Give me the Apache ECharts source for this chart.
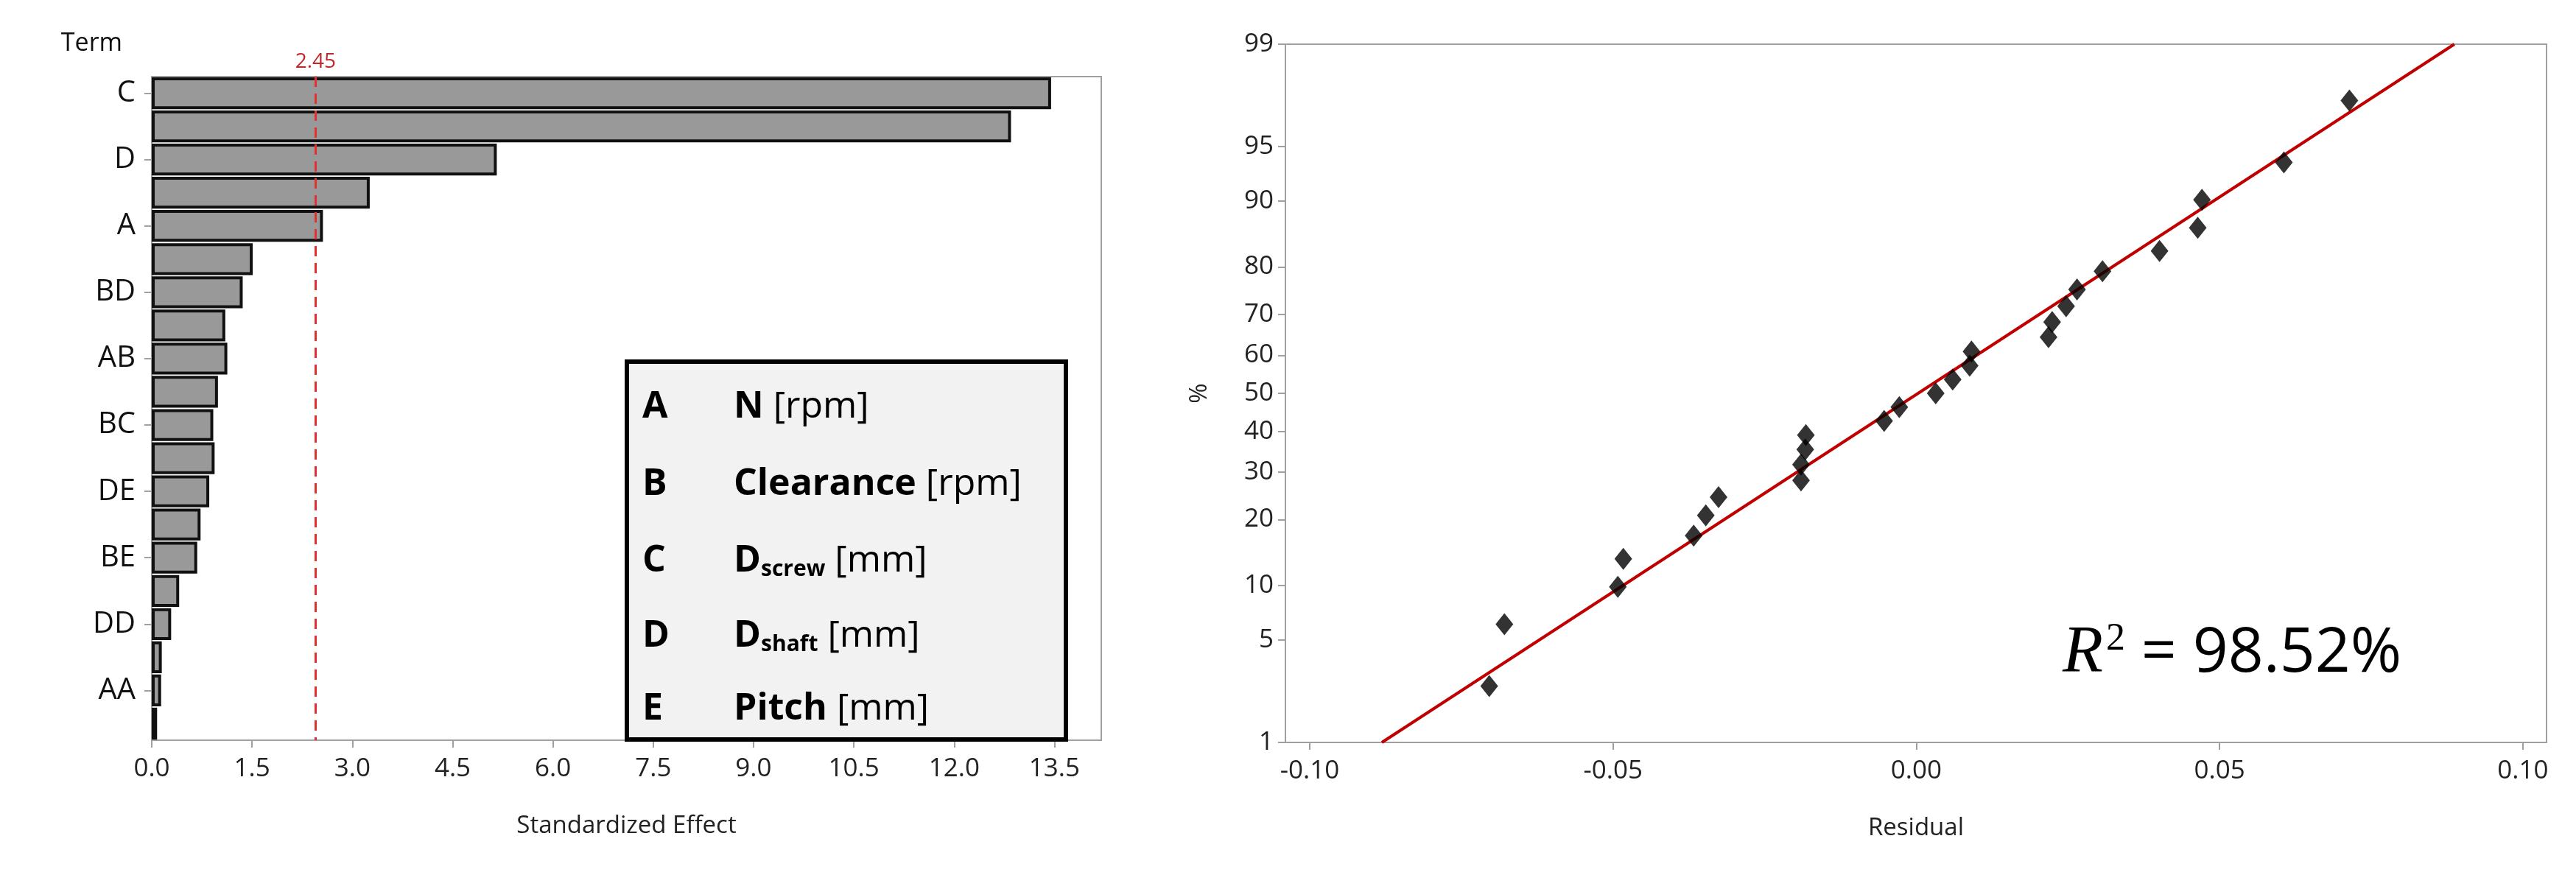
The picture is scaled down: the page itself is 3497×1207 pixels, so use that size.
<!DOCTYPE html>
<html><head><meta charset="utf-8">
<script src="https://cdn.jsdelivr.net/npm/echarts@6/dist/echarts.min.js"></script>
<style>html,body{margin:0;background:#fff}#c{width:3497px;height:1207px}</style>
</head><body><div id="c"></div>
<script>
const terms = ['C','B','D','E','A','EE','BD','CD','AB','AC','BC','AD','DE','AE','BE','CE','DD','CC','AA','BB'];
const effects = [13.45,12.85,5.16,3.26,2.56,1.51,1.36,1.10,1.13,0.99,0.92,0.94,0.86,0.73,0.68,0.41,0.29,0.15,0.14,0.08];
const effectTicks = [0,1.5,3,4.5,6,7.5,9,10.5,12,13.5];
const critical = 2.45;
const residuals = [-0.0704,-0.0679,-0.0492,-0.0483,-0.0367,-0.0347,-0.0326,-0.0190,-0.0190,-0.0183,-0.0182,-0.0053,-0.0028,0.0032,0.0060,0.0088,0.0091,0.0218,0.0224,0.0247,0.0265,0.0307,0.0401,0.0464,0.0471,0.0606,0.0714];
const percents = [2.55,6.20,9.85,13.50,17.15,20.80,24.45,28.10,31.75,35.40,39.05,42.70,46.35,50.0,53.65,57.30,60.95,64.60,68.25,71.90,75.55,79.20,82.85,86.50,90.15,93.80,97.45];
const fitResidual = [-0.0881,0.0887];
const fitPercent = [1,99];
const pctTicks = [1,5,10,20,30,40,50,60,70,80,90,95,99];
const residTicks = [-0.10,-0.05,0.00,0.05,0.10];

function qnorm(p){
  const a=[-3.969683028665376e+01,2.209460984245205e+02,-2.759285104469687e+02,1.383577518672690e+02,-3.066479806614716e+01,2.506628277459239e+00];
  const b=[-5.447609879822406e+01,1.615858368580409e+02,-1.556989798598866e+02,6.680131188771972e+01,-1.328068155288572e+01];
  const c=[-7.784894002430293e-03,-3.223964580411365e-01,-2.400758277161838e+00,-2.549732539343734e+00,4.374664141464968e+00,2.938163982698783e+00];
  const d=[7.784695709041462e-03,3.224671290700398e-01,2.445134137142996e+00,3.754408661907416e+00];
  const pl=0.02425;let q,r;
  if(p<pl){q=Math.sqrt(-2*Math.log(p));return (((((c[0]*q+c[1])*q+c[2])*q+c[3])*q+c[4])*q+c[5])/((((d[0]*q+d[1])*q+d[2])*q+d[3])*q+1);}
  if(p>1-pl){q=Math.sqrt(-2*Math.log(1-p));return -(((((c[0]*q+c[1])*q+c[2])*q+c[3])*q+c[4])*q+c[5])/((((d[0]*q+d[1])*q+d[2])*q+d[3])*q+1);}
  q=p-0.5;r=q*q;return (((((a[0]*r+a[1])*r+a[2])*r+a[3])*r+a[4])*r+a[5])*q/(((((b[0]*r+b[1])*r+b[2])*r+b[3])*r+b[4])*r+1);
}
const z = p => qnorm(p/100);
const zTicks = pctTicks.map(z);
const zLabel = v => { let best=pctTicks[0],bd=1e9; pctTicks.forEach(p=>{const dd=Math.abs(z(p)-v); if(dd<bd){bd=dd;best=p;}}); return String(best); };

const FONT = '"Open Sans","Noto Sans",sans-serif';
const lab = {fontFamily:FONT,fontSize:35,color:'#222'};

const legendRows = [
  ['A','{b|N} [rpm]'],
  ['B','{b|Clearance} [rpm]'],
  ['C','{b|D}{s|screw} [mm]'],
  ['D','{b|D}{s|shaft} [mm]'],
  ['E','{b|Pitch} [mm]']
];
const rowY = [553,658,762,864,963];
const legendGraphic = [{type:'rect',shape:{x:851,y:491,width:596,height:513},style:{fill:'#f2f2f2',stroke:'#000',lineWidth:6},z:10}];
legendRows.forEach((r,i)=>{
  legendGraphic.push({type:'text',x:872,y:rowY[i],z:11,style:{text:r[0],fontFamily:FONT,fontWeight:'bold',fontSize:50,fill:'#000',verticalAlign:'middle'}});
  legendGraphic.push({type:'text',x:996,y:rowY[i],z:11,style:{text:r[1],fontFamily:FONT,fontSize:50,fill:'#000',verticalAlign:'middle',
    rich:{b:{fontFamily:FONT,fontWeight:'bold',fontSize:50,fill:'#000'},s:{fontFamily:FONT,fontWeight:'bold',fontSize:30,fill:'#000',verticalAlign:'bottom',padding:[22,0,0,0]}}}});
});

const chart = echarts.init(document.getElementById('c'));
chart.setOption({
  animation:false,
  backgroundColor:'#fff',
  grid:[
    {left:206,top:104,width:1289,height:901,show:true,borderColor:'#a0a0a0',borderWidth:2,backgroundColor:'transparent'},
    {left:1745,top:60,width:1712,height:948,show:true,borderColor:'#a0a0a0',borderWidth:2,backgroundColor:'transparent'}
  ],
  xAxis:[
    {type:'value',gridIndex:0,min:0,max:14.2,name:'Standardized Effect',nameLocation:'middle',nameGap:100,
     nameTextStyle:{fontFamily:FONT,fontSize:33,color:'#222'},
     axisLine:{show:true,onZero:false,lineStyle:{color:'#a0a0a0',width:2}},axisTick:{show:true,length:10,lineStyle:{color:'#a0a0a0',width:2},customValues:effectTicks},
     axisLabel:Object.assign({},lab,{margin:22,customValues:effectTicks,formatter:v=>v.toFixed(1)}),splitLine:{show:false}},
    {type:'value',gridIndex:1,min:-0.104,max:0.1039,name:'Residual',nameLocation:'middle',nameGap:100,
     nameTextStyle:{fontFamily:FONT,fontSize:33,color:'#222'},
     axisLine:{show:true,onZero:false,lineStyle:{color:'#a0a0a0',width:2}},axisTick:{show:true,length:10,lineStyle:{color:'#a0a0a0',width:2},customValues:residTicks},
     axisLabel:Object.assign({},lab,{margin:22,customValues:residTicks,formatter:v=>v.toFixed(2)}),splitLine:{show:false}}
  ],
  yAxis:[
    {type:'category',gridIndex:0,data:terms,inverse:true,name:'Term',nameLocation:'start',nameGap:28,
     nameTextStyle:{fontFamily:FONT,fontSize:34,color:'#111',align:'right',padding:[0,40,0,0]},
     axisLine:{show:true,onZero:false,lineStyle:{color:'#a0a0a0',width:2}},axisTick:{show:true,alignWithLabel:true,length:10,lineStyle:{color:'#a0a0a0',width:2}},
     axisLabel:Object.assign({},lab,{fontSize:40,margin:22,color:'#111'}),splitLine:{show:false}},
    {type:'value',gridIndex:1,min:z(1),max:z(99),name:'%',nameLocation:'middle',nameGap:100,
     nameTextStyle:{fontFamily:FONT,fontSize:33,color:'#222'},
     axisLine:{show:true,onZero:false,lineStyle:{color:'#a0a0a0',width:2}},axisTick:{show:true,length:10,lineStyle:{color:'#a0a0a0',width:2},customValues:zTicks},
     axisLabel:Object.assign({},lab,{margin:16,customValues:zTicks,formatter:zLabel}),splitLine:{show:false}}
  ],
  series:[
    {type:'bar',xAxisIndex:0,yAxisIndex:0,data:effects,barCategoryGap:'4%',
     itemStyle:{color:'#999999',borderColor:'#111',borderWidth:4},
     markLine:{symbol:'none',silent:true,lineStyle:{color:'#e03030',type:[14,9],width:3},
       label:{show:true,position:'start',formatter:'2.45',color:'#c0282a',fontFamily:FONT,fontSize:28,distance:6},
       data:[{xAxis:critical}]}},
    {type:'line',xAxisIndex:1,yAxisIndex:1,data:fitResidual.map((r,i)=>[r,z(fitPercent[i])]),symbol:'none',
     lineStyle:{color:'#c00000',width:4},z:2},
    {type:'scatter',xAxisIndex:1,yAxisIndex:1,data:residuals.map((r,i)=>[r,z(percents[i])]),symbol:'diamond',symbolSize:[24,30],
     itemStyle:{color:'#000'},z:3}
  ],
  graphic:legendGraphic.concat([
    {type:'text',x:2800,y:888,style:{text:'{r|R}{p|2}{t| = 98.52%}',verticalAlign:'middle',
      rich:{r:{fontFamily:'"Liberation Serif",serif',fontStyle:'italic',fontSize:90,fill:'#000'},
            p:{fontFamily:'"Liberation Serif",serif',fontSize:52,fill:'#000',verticalAlign:'top',padding:[0,0,40,4]},
            t:{fontFamily:FONT,fontSize:84,fill:'#000'}}}}
  ])
});
</script></body></html>
